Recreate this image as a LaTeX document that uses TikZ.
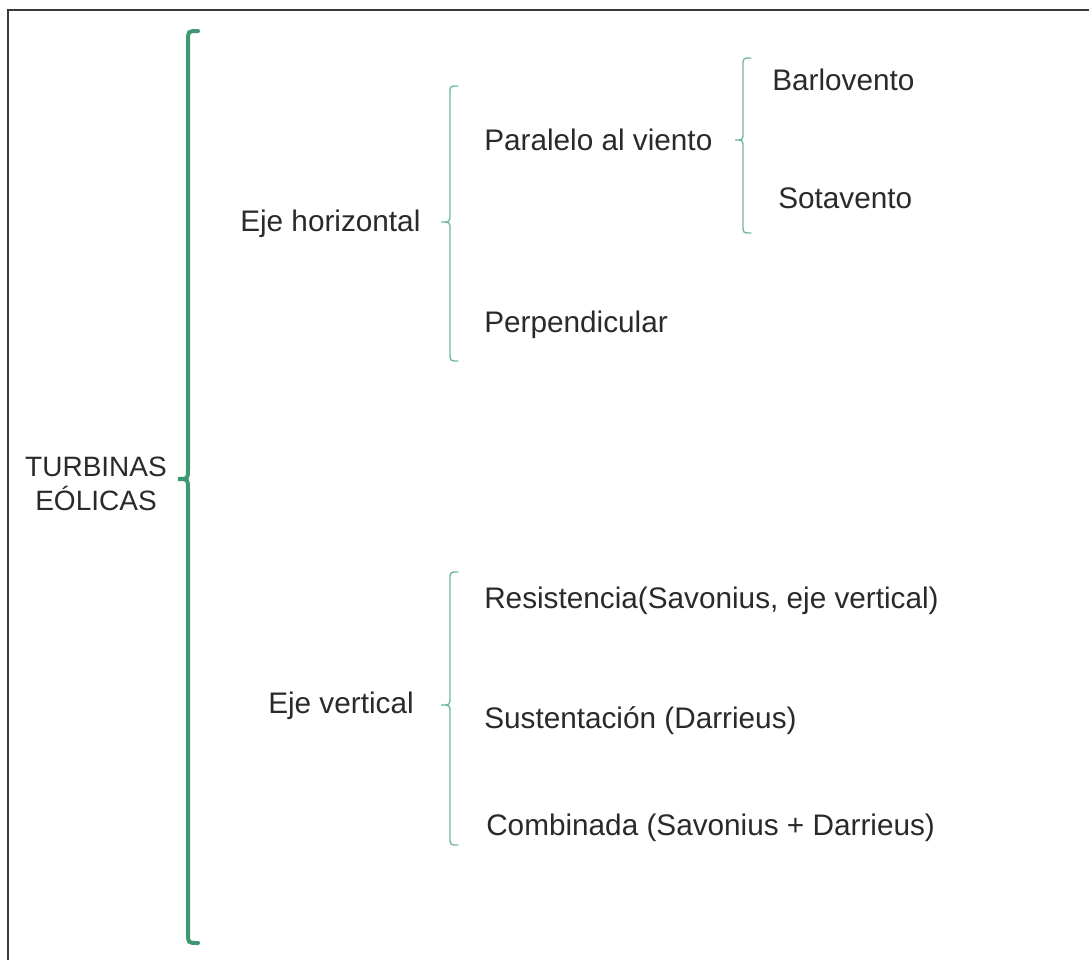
\documentclass[tikz,border=0pt]{standalone}
\usepackage{fontspec}
\setmainfont{Liberation Sans}
\definecolor{bracegreen}{HTML}{3F9872}
\definecolor{lightgreen}{HTML}{72B89A}
\definecolor{inkgray}{HTML}{2A2A2A}
\definecolor{framegray}{HTML}{3A3A3A}
% #1 style, #2 x of the spine, #3 top y, #4 tip y, #5 bottom y, #6 tip x, #7 hook length
\newcommand{\keybrace}[7]{%
  \draw[#1] (#2+#7,#3) .. controls (#2,#3) .. (#2,#3+#7)
    -- (#2,#4-#7) .. controls (#2,#4) .. (#6,#4)
    .. controls (#2,#4) .. (#2,#4+#7)
    -- (#2,#5-#7) .. controls (#2,#5) .. (#2+#7,#5);}
\begin{document}
\begin{tikzpicture}[x=0.75pt,y=-0.75pt,
  label/.style={inner sep=0pt,anchor=base west,text=inkgray,font=\fontsize{22.3}{26}\selectfont},
  rootlabel/.style={inner sep=0pt,anchor=base,align=center,text=inkgray,font=\fontsize{21}{24.8}\selectfont},
  bigbrace/.style={draw=bracegreen,line width=3pt,line cap=round},
  smallbrace/.style={draw=lightgreen,line width=1pt,line cap=round}]
\useasboundingbox (0,0) rectangle (1089,960);
\fill[white] (0,0) rectangle (1089,960);
% frame (only its top and left edges fall inside the page)
\draw[framegray,line width=1.6pt] (1095,10) -- (8,10) -- (8,966);

% main bracket
\keybrace{bigbrace}{188}{31}{479}{943}{178}{10}
\node[rootlabel] (root) at (96,510) {TURBINAS\\EÓLICAS};

% horizontal axis branch
\node[label] (horiz) at (240,231) {Eje horizontal};
\keybrace{smallbrace}{450}{86}{222}{361}{441}{8}
\node[label] (par) at (484,150) {Paralelo al viento};
\node[label] (perp) at (484,332) {Perpendicular};
\keybrace{smallbrace}{743}{58}{140}{233}{735}{8}
\node[label] (barl) at (772,90) {Barlovento};
\node[label] (sota) at (778,208) {Sotavento};

% vertical axis branch
\node[label] (vert) at (268,713) {Eje vertical};
\keybrace{smallbrace}{450}{572}{705}{845}{441}{8}
\node[label] (res) at (484,608) {Resistencia(Savonius, eje vertical)};
\node[label] (sus) at (484,728) {Sustentación (Darrieus)};
\node[label] (comb) at (486,835) {Combinada (Savonius + Darrieus)};
\end{tikzpicture}
\end{document}
